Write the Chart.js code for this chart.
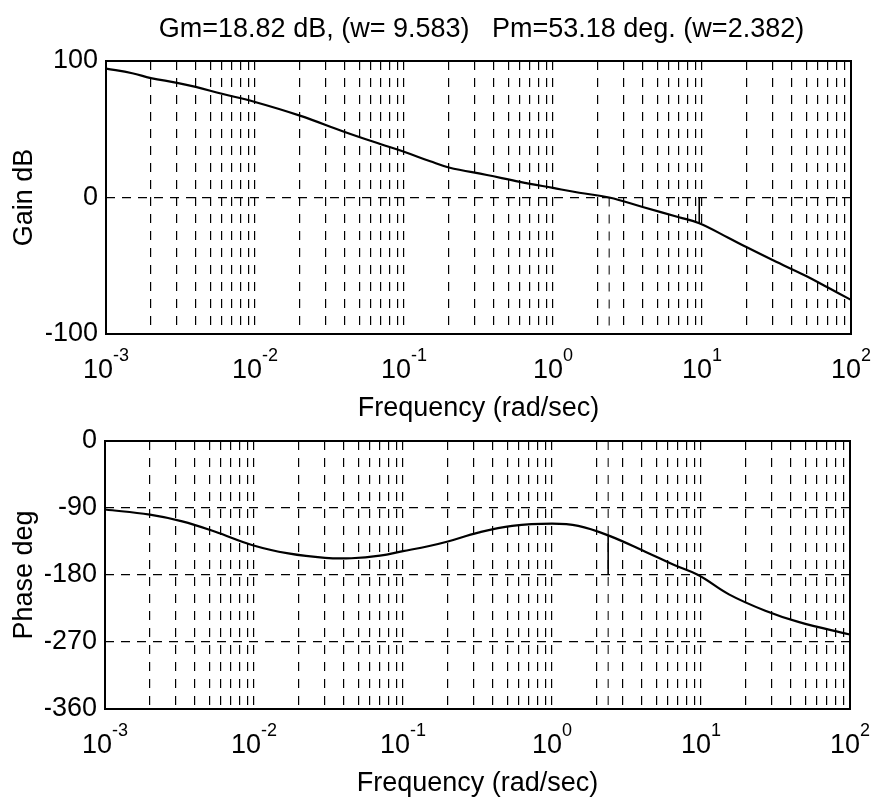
<!DOCTYPE html>
<html>
<head>
<meta charset="utf-8">
<script src="https://cdn.jsdelivr.net/npm/chart.js@4.4.1/dist/chart.umd.min.js"></script>
<style>
html,body{margin:0;padding:0;background:#fff;}
#wrap{position:relative;width:873px;height:802px;overflow:hidden;background:#fff;}
canvas{position:absolute;left:0;}
#c1{top:0;}
#c2{top:400px;}
</style>
</head>
<body>
<div id="wrap">
<canvas id="c1" width="873" height="430"></canvas>
<canvas id="c2" width="873" height="402"></canvas>
</div>
<script>
// ---- data ----
const gainFreq = [0.001,0.0015,0.002,0.003,0.004,0.006,0.01,0.02,0.04,0.07,0.1,0.15,0.2,0.36,0.6,1,1.5,2.382,4,7,9.583,15,20,30,50,70,100];
const gainDb   = [94.5,91,87.5,84,81,76,70,60,48,39,33.5,26.5,22,16.5,11.5,7,3.5,0,-7,-14.5,-18.82,-29.5,-36.5,-46,-57.5,-66,-75];

const phaseFreq = [0.001,0.002,0.0033,0.0055,0.0098,0.017,0.03,0.045,0.07,0.1,0.15,0.2,0.32,0.54,1.0,1.5,2.382,4.26,6.5,9.583,15.4,27,45,100];
const phaseDeg  = [-92,-99,-108,-122,-140,-151,-157,-157.5,-154,-148,-141,-135,-123,-114,-111,-114,-126.8,-149,-166,-180,-206,-228,-243,-260];

const decades = [-3,-2,-1,0,1,2];
const minorMultipliers = [1,2,3,4,5,6,7,8,9];
const gainTicks = [-100,0,100];
const phaseTicks = [-360,-270,-180,-90,0];

const gmDb = 18.82, gmFreq = 9.583, pmDeg = 53.18, pmFreq = 2.382;
const titleText = 'Gm=' + gmDb + ' dB, (w= ' + gmFreq + ')   Pm=' + pmDeg + ' deg. (w=' + pmFreq + ')';
const xTitle = 'Frequency (rad/sec)';
const gainTitle = 'Gain dB';
const phaseTitle = 'Phase deg';

// ---- helpers ----
const FONT = '"Liberation Sans", Arial, Helvetica, sans-serif';
Chart.defaults.font.family = FONT;

const xGridValues = [];
decades.forEach(e => {
  minorMultipliers.forEach(m => {
    const v = m * Math.pow(10, e);
    if (v <= 100 * 1.0000001) xGridValues.push(v);
  });
});

function decor(id, opts) {
  return {
    id: id,
    afterDraw(chart) {
      const ctx = chart.ctx, a = chart.chartArea, xs = chart.scales.x;
      ctx.save();
      ctx.strokeStyle = '#000';
      ctx.lineWidth = 2;
      ctx.setLineDash([]);
      ctx.strokeRect(a.left, a.top, a.right - a.left, a.bottom - a.top);
      ctx.fillStyle = '#000';
      ctx.textBaseline = 'alphabetic';
      decades.forEach(e => {
        const px = xs.getPixelForValue(Math.pow(10, e));
        const sup = String(e);
        ctx.font = '27px ' + FONT;
        const w1 = ctx.measureText('10').width;
        ctx.font = '18px ' + FONT;
        const w2 = ctx.measureText(sup).width;
        const start = px - (w1 + w2) / 2;
        ctx.textAlign = 'left';
        ctx.font = '27px ' + FONT;
        ctx.fillText('10', start, opts.labelY);
        ctx.font = '18px ' + FONT;
        ctx.fillText(sup, start + w1, opts.labelY - 17);
      });
      ctx.font = '27px ' + FONT;
      ctx.textAlign = 'center';
      ctx.fillText(xTitle, (a.left + a.right) / 2, opts.xTitleY);
      ctx.save();
      ctx.translate(32, (a.top + a.bottom) / 2);
      ctx.rotate(-Math.PI / 2);
      ctx.fillText(opts.yTitle, 0, 0);
      ctx.restore();
      if (opts.title) {
        ctx.fillText(opts.title, (a.left + a.right) / 2 + 3, opts.titleY);
      }
      ctx.restore();
    }
  };
}

function xAxis() {
  return {
    type: 'logarithmic',
    min: 0.001,
    max: 100,
    afterBuildTicks(s) { s.ticks = xGridValues.map(v => ({ value: v })); },
    ticks: { display: false },
    grid: { color: '#000', lineWidth: 1.2, drawTicks: false },
    border: { display: false, dash: [9, 8] },
    afterFit(s) { s.height = 0; }
  };
}

function yAxis(min, max, tickVals) {
  return {
    type: 'linear',
    min: min,
    max: max,
    afterBuildTicks(s) { s.ticks = tickVals.map(v => ({ value: v })); },
    ticks: { color: '#000', font: { family: FONT, size: 27 }, padding: 8, autoSkip: false, callback: v => String(v) },
    grid: { color: '#000', lineWidth: 1.2, drawTicks: false },
    border: { display: false, dash: [9, 7] },
    afterFit(s) { s.width = 60; }
  };
}

function curve(freqs, vals) {
  return {
    data: freqs.map((f, i) => ({ x: f, y: vals[i] })),
    borderColor: '#000', borderWidth: 2.2, pointRadius: 0,
    tension: 0.4, fill: false
  };
}
function seg(p, width, dash) {
  return { data: p, borderColor: '#000', borderWidth: width, borderDash: dash || [], pointRadius: 0, fill: false };
}

const common = {
  responsive: false,
  animation: false,
  events: [],
  plugins: { legend: { display: false }, tooltip: { enabled: false }, title: { display: false } }
};

new Chart(document.getElementById('c1'), {
  type: 'line',
  data: {
    datasets: [
      curve(gainFreq, gainDb),
      seg([{ x: gmFreq, y: 0 }, { x: gmFreq, y: -gmDb }], 1.6),
      seg([{ x: pmFreq, y: 0 }, { x: pmFreq, y: -100 }], 1, [9, 8])
    ]
  },
  options: Object.assign({}, common, {
    layout: { padding: { left: 46, right: 22, top: 61, bottom: 96 } },
    scales: { x: xAxis(), y: yAxis(-100, 100, gainTicks) }
  }),
  plugins: [decor('decorGain', { labelY: 378, xTitleY: 416, yTitle: gainTitle, title: titleText, titleY: 37 })]
});

new Chart(document.getElementById('c2'), {
  type: 'line',
  data: {
    datasets: [
      curve(phaseFreq, phaseDeg),
      seg([{ x: pmFreq, y: -180 }, { x: pmFreq, y: -180 + pmDeg }], 1.6),
      seg([{ x: pmFreq, y: 0 }, { x: pmFreq, y: -360 }], 1, [9, 8])
    ]
  },
  options: Object.assign({}, common, {
    layout: { padding: { left: 45, right: 23, top: 41, bottom: 93 } },
    scales: { x: xAxis(), y: yAxis(-360, 0, phaseTicks) }
  }),
  plugins: [decor('decorPhase', { labelY: 353, xTitleY: 391, yTitle: phaseTitle })]
});
</script>
</body>
</html>
